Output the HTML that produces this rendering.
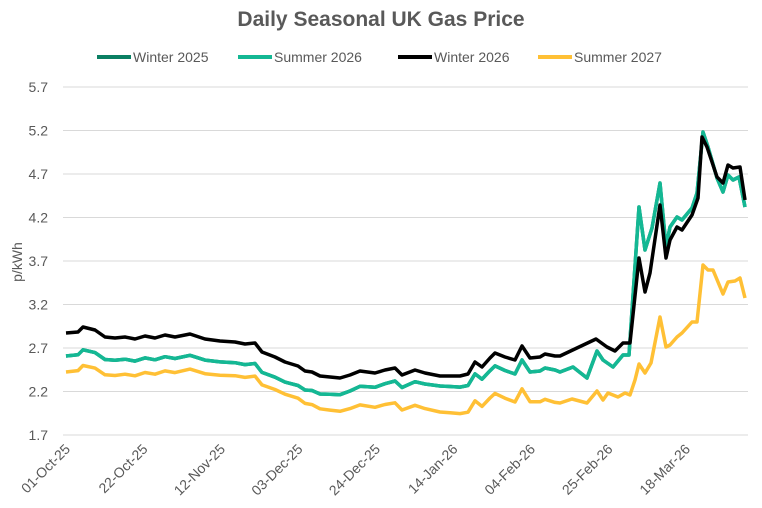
<!DOCTYPE html>
<html><head><meta charset="utf-8"><style>
body{margin:0;background:#fff;}
svg{display:block;font-family:"Liberation Sans",Arial,sans-serif;}
</style></head><body>
<svg id="s" width="762" height="508" viewBox="0 0 762 508">
<text x="381" y="26" text-anchor="middle" font-size="21" font-weight="bold" fill="#595959">Daily Seasonal UK Gas Price</text>
<g font-size="14" fill="#595959">
<line x1="97" y1="57" x2="131" y2="57" stroke="#0a7f63" stroke-width="4"/><text x="133" y="62">Winter 2025</text>
<line x1="238" y1="57" x2="272" y2="57" stroke="#14b894" stroke-width="4"/><text x="274" y="62">Summer 2026</text>
<line x1="398" y1="57" x2="432" y2="57" stroke="#000" stroke-width="4"/><text x="434" y="62">Winter 2026</text>
<line x1="538" y1="57" x2="572" y2="57" stroke="#ffc035" stroke-width="4"/><text x="574" y="62">Summer 2027</text>
</g>
<g id="grid"></g>
<text transform="translate(22,262) rotate(-90)" text-anchor="middle" font-size="14" fill="#595959">p/kWh</text>
<g id="lines" fill="none" stroke-width="3.5" stroke-linejoin="round"></g>
</svg>
<script>
const NS="http://www.w3.org/2000/svg",g=document.getElementById('grid'),L=document.getElementById('lines');
function el(t,a,p,txt){const e=document.createElementNS(NS,t);for(const k in a)e.setAttribute(k,a[k]);if(txt)e.textContent=txt;p.appendChild(e);return e;}
for(let i=0;i<=8;i++){const v=1.7+i*0.5,y=435-i*43.5;
el('line',{x1:63,x2:748,y1:y,y2:y,stroke:'#d9d9d9','stroke-width':1},g);
el('text',{x:48,y:y+5,'text-anchor':'end','font-size':14,fill:'#595959'},g,v.toFixed(1));}
const dl=['01-Oct-25','22-Oct-25','12-Nov-25','03-Dec-25','24-Dec-25','14-Jan-26','04-Feb-26','25-Feb-26','18-Mar-26'];
dl.forEach((d,i)=>{const x=71+i*77.5;el('text',{transform:`translate(${x},450) rotate(-45)`,'text-anchor':'end','font-size':14,fill:'#595959'},g,d);});
const blackL=[[66,333],[78,332],[83,327],[95,330],[105,337],[115,338],[125,337],[135,339],[145,336],[155,338],[165,335],[175,337],[190,334],[205,339],[220,341],[235,342],[245,344],[255,343],[262,352],[275,357],[285,362],[298,366],[305,371],[312,372],[320,376],[330,377],[340,378],[350,375],[360,371],[375,373],[385,370],[395,368],[402,375],[415,370],[425,373],[440,376],[450,376],[460,376],[468,374],[475,362],[482,367],[490,358],[495,353],[505,357],[515,360],[522,346],[530,358],[540,357],[545,354],[555,356]];
function lerp(pts,x){for(let i=1;i<pts.length;i++)if(x<=pts[i][0]){const a=pts[i-1],b=pts[i];return a[1]+(b[1]-a[1])*(x-a[0])/(b[0]-a[0]);}return pts[pts.length-1][1];}
const dT=[[66,23],[290,20],[440,10],[515,14],[560,14]],dY=[[66,39],[290,32],[440,36],[515,42],[560,47]];
const black=blackL.concat([[560,356],[596,339],[607,347],[615,351],[623,343],[630,343],[639,258],[645,292],[650,273],[660,205],[666,258],[670,240],[677,227],[682,230],[692,215],[698,198],[702,137],[707,147],[717,177],[723,183],[728,165],[733,168],[740,167],[745,200]]);
const teal=blackL.map(p=>[p[0],p[1]+lerp(dT,p[0])]).concat([[560,372],[573,367],[587,378],[597,351],[603,360],[613,367],[623,355],[629,355],[639,207],[645,250],[652,228],[660,183],[666,247],[670,227],[677,217],[682,220],[692,208],[697,193],[703,132],[708,147],[717,178],[723,192],[728,175],[733,180],[739,177],[745,207]]);
const yel=blackL.map(p=>[p[0],p[1]+lerp(dY,p[0])]).concat([[560,403],[572,399],[587,403],[597,391],[603,400],[608,393],[618,397],[625,393],[630,395],[635,380],[639,364],[645,373],[651,363],[660,317],[666,347],[670,345],[677,337],[682,333],[692,322],[697,322],[703,265],[708,270],[713,270],[723,294],[728,282],[735,281],[740,278],[745,298]]);
const P=a=>a.map(p=>p[0]+','+p[1].toFixed(1)).join(' ');
el('polyline',{points:P(teal),stroke:'#0a7f63'},L);
el('polyline',{points:P(teal),stroke:'#14b894'},L);
el('polyline',{points:P(yel),stroke:'#ffc035'},L);
el('polyline',{points:P(black),stroke:'#000'},L);
</script>
</body></html>
